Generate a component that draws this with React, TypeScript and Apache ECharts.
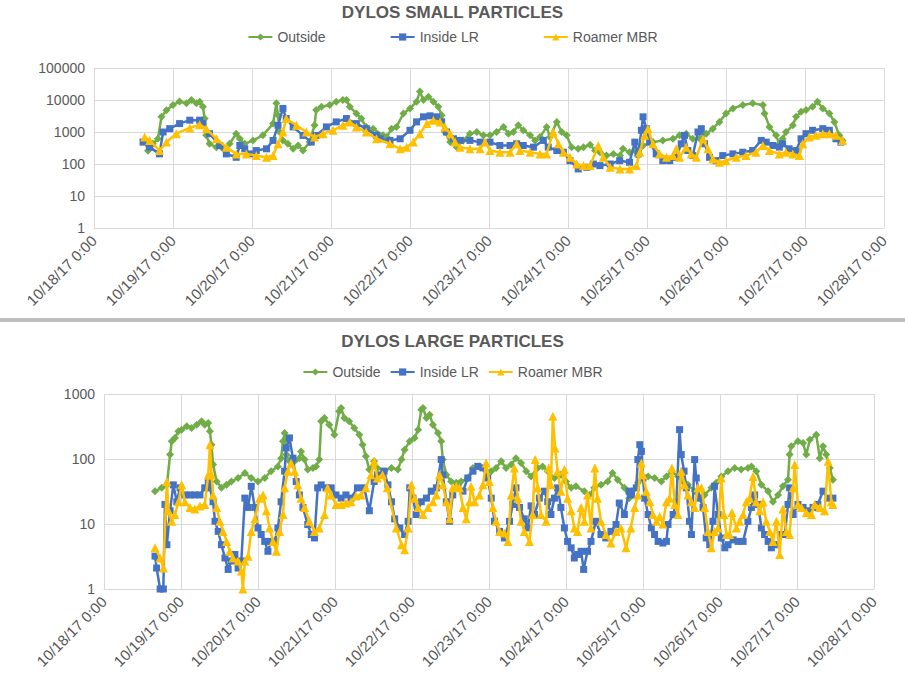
import React, { useEffect, useRef } from "react";
import * as echarts from "echarts";

// Time is hours since 10/18/17 0:00
const xTickHours = [0, 24, 48, 72, 96, 120, 144, 168, 192, 216, 240];
const seriesNames = ["Outside", "Inside LR", "Roamer MBR"];

// ---------- SMALL PARTICLES ----------
const smallOutsideHours = [
  15.4, 16.4, 17.9, 19.4, 20.5, 22.0, 24.0, 26.0, 28.1, 29.6, 31.1, 32.1, 33.1, 33.6, 34.1, 35.1, 37.2, 39.2, 41.2, 43.2,
  44.3, 45.8, 48.3, 51.3, 54.4, 55.4, 55.9, 56.4, 57.4, 58.9, 60.5, 62.0, 63.5, 65.5, 67.0, 67.5, 69.1, 71.6, 73.6, 75.6,
  76.7, 77.7, 79.7, 81.2, 82.7, 84.8, 87.8,
  88.9, 90.4, 91.9, 94.0, 96.0, 98.0, 99.0, 100.1, 101.6, 103.1, 104.6, 105.6, 106.6, 108.2, 110.2, 112.2, 114.2, 116.3, 118.3, 120.3,
  122.3, 124.4, 125.9, 127.4, 128.9, 130.4, 132.5, 134.0, 135.5, 137.5, 138.5, 140.6, 142.1, 143.6, 145.1, 147.1, 148.7, 150.7, 152.2, 153.7,
  155.7, 157.8, 159.8,
  160.7, 162.7, 164.3, 165.3, 166.8, 169.8, 172.8, 175.9, 177.9, 179.9, 181.9, 184.0, 186.0, 188.0, 190.0, 192.0, 194.1, 197.1, 200.1, 203.2,
  203.7, 205.2, 207.2, 208.2, 209.2, 210.2, 212.3, 213.3, 214.8, 216.3, 218.3, 219.8, 221.4, 223.4, 224.9, 226.4, 227.4,
];
const smallOutside = [
  550, 260, 430, 610, 3000, 4800, 7000, 8900, 7850, 10000, 7850, 8860, 6150, 2630, 785, 428, 336, 298, 428, 886,
  614, 428, 546, 785, 1830, 7850, 3360, 1000, 546, 428, 298, 379, 263, 483, 1620, 4830, 6150, 6950, 8860, 10000,
  10000, 6150, 3800, 2630, 1440, 1270, 785,
  695, 1270, 1440, 3800, 5450, 8860, 18300, 10000, 12700, 8860, 6150, 3360, 1000, 483, 336, 546, 886, 1000, 785, 785,
  1000, 1440, 886, 1000, 1620, 1130, 785, 546, 695, 1440, 695, 2070, 1000, 785, 336, 298, 336, 400, 263, 233,
  183, 207, 183,
  298, 233, 263, 183, 379, 483, 546, 614, 785, 886, 614, 614, 886, 1270, 2070, 3800, 5450, 6950, 7850, 6950,
  3800, 1440, 785, 428, 614, 1000, 1620, 2980, 4280, 4830, 6150, 8860, 5450, 3800, 2070, 785, 546,
];

const smallInsideHours = [
  14.9, 16.9, 19.9, 21.0, 23.0, 26.0, 29.1, 32.1, 33.1, 35.1, 38.2, 40.2, 43.2, 44.3, 45.8, 47.3, 49.3, 52.4, 54.4, 55.9,
  57.4, 58.4, 60.5, 63.5, 66.0, 67.5, 70.6, 73.6, 76.7, 79.7, 82.7, 85.8,
  86.9, 89.9, 93.0, 96.0, 98.0, 100.1, 102.1, 104.1, 105.6, 107.1, 109.2, 111.2, 114.2, 117.3, 120.3, 123.3, 126.4, 128.4, 130.4, 133.5,
  136.5, 138.0, 140.6, 142.6, 144.6, 147.1, 149.7, 151.7, 153.7, 156.8,
  159.7, 162.7, 164.3, 165.3, 166.3, 166.8, 167.8, 168.8, 170.8, 172.8, 174.9, 176.9, 178.4, 179.4, 180.4, 181.9, 183.5, 184.5, 185.5, 187.0,
  189.0, 191.0, 194.1, 197.1, 200.1, 202.7, 204.2, 206.2, 208.2, 209.2, 211.2, 213.3, 214.8, 216.3, 218.3, 221.4, 223.4, 225.4, 226.9,
];
const smallInside = [
  483, 336, 207, 1000, 1270, 1830, 2340, 2340, 1830, 886, 379, 207, 162, 379, 298, 207, 263, 298, 546, 1620,
  5450, 2630, 1440, 785, 483, 785, 1440, 2070, 2630, 1830, 1270, 785,
  614, 546, 614, 1130, 2070, 2980, 3200, 2980, 2070, 1000, 614, 546, 546, 483, 483, 379, 379, 428, 379, 336,
  546, 336, 263, 233, 127, 70, 79, 100, 89, 100,
  127, 113, 483, 207, 1130, 2980, 1270, 483, 207, 127, 127, 162, 428, 785, 263, 183, 1000, 1270, 428, 162,
  127, 183, 207, 233, 263, 546, 483, 379, 336, 428, 298, 263, 614, 886, 1130, 1270, 1130, 614, 483,
];

const smallRoamerHours = [
  15.4, 16.9, 19.9, 22.0, 25.0, 29.1, 32.1, 34.1, 37.2, 40.2, 43.2, 46.3, 49.3, 52.4, 54.4, 55.9, 57.4, 58.4, 61.5, 64.5,
  67.0, 69.6, 72.6, 75.6, 77.7, 79.7, 82.7, 85.8,
  89.9, 93.0, 95.0, 97.0, 99.0, 101.1, 103.1, 105.1, 106.6, 108.2, 109.7, 111.2, 114.2, 117.3, 118.8, 120.3, 123.3, 126.4, 128.4, 129.4,
  132.5, 135.5, 137.5, 139.5, 141.1, 142.6, 144.6, 146.6, 148.7, 150.7, 153.2, 154.7, 156.8, 159.8,
  162.7, 164.8, 165.8, 167.3, 168.3, 169.8, 171.8, 173.9, 175.9, 176.9, 177.9, 179.9, 181.4, 183.0, 185.0, 186.5, 188.0, 190.0, 192.0, 195.1,
  198.1, 201.1, 203.2, 205.2, 208.2, 210.2, 212.3, 214.3, 215.3, 217.3, 219.3, 221.4, 223.4, 225.4, 227.4,
];
const smallRoamer = [
  695, 546, 263, 483, 886, 1340, 1700, 1270, 614, 336, 207, 207, 183, 162, 183, 428, 1000, 2630, 1620, 1000,
  695, 886, 1130, 1620, 2070, 1440, 1000, 614,
  428, 298, 336, 483, 886, 1830, 2340, 2070, 1440, 886, 483, 336, 298, 298, 483, 263, 233, 233, 428, 263,
  233, 207, 207, 1000, 428, 233, 162, 100, 89, 89, 379, 162, 79, 70,
  70, 89, 233, 785, 1270, 428, 207, 162, 183, 298, 162, 336, 207, 162, 614, 298, 144, 113, 127, 162,
  183, 233, 379, 263, 207, 233, 207, 183, 428, 695, 785, 886, 886, 785, 546,
];

// ---------- LARGE PARTICLES ----------
const largeOutsideHours = [
  15.9, 18.0, 19.6, 20.6, 21.1, 22.1, 23.2, 24.2, 25.8, 27.3, 28.9, 30.4, 31.4, 32.5, 33.0, 33.5, 34.0, 35.1, 36.6, 38.2,
  39.7, 41.8, 43.9, 45.9, 48.0, 50.1, 52.1, 54.2, 55.2, 55.8, 56.3, 56.8, 57.8, 59.4, 60.9, 61.4, 62.5, 63.5, 65.1, 66.1,
  67.1, 67.7, 68.7, 70.2, 71.8, 73.3, 73.9, 74.9, 76.4, 78.0, 79.6, 80.6, 81.6, 82.7, 84.2, 85.2, 87.3,
  89.6, 91.6, 92.7, 93.7, 95.3, 96.8, 97.9, 98.9, 99.4, 100.5, 101.5, 102.5, 104.1, 105.1, 105.6, 106.7, 108.2, 109.8, 111.3, 113.4,
  115.0, 117.0, 118.6, 120.7, 122.2, 123.8, 125.3, 126.9, 128.4, 130.0, 131.6, 133.1, 135.2, 136.7, 138.3, 140.4, 142.4, 144.0, 145.6, 147.1,
  149.7, 151.3, 152.8, 154.9, 157.0, 158.5, 160.1, 162.2, 163.7,
  164.4, 166.4, 168.0, 169.6, 171.6, 173.7, 175.3, 176.8, 178.9, 180.5, 182.0, 184.1, 185.7, 187.2, 189.3, 190.8, 192.4, 194.5, 196.6, 198.6,
  200.7, 201.8, 203.3, 204.9, 207.0, 208.5, 210.1, 211.6, 213.2, 213.7, 214.2, 216.3, 217.9, 218.9, 220.0, 222.0, 223.1, 224.1, 225.1, 226.2,
  227.2,
];
const largeOutside = [
  32, 36, 40, 117, 187, 211, 267, 283, 318, 300, 337, 380, 337, 358, 267, 166, 82, 45, 36, 40,
  45, 51, 61, 51, 45, 51, 65, 77, 103, 187, 251, 117, 92, 92, 103, 131, 98, 69, 73, 77,
  98, 380, 428, 337, 237, 541, 609, 428, 380, 300, 237, 166, 110, 69, 92, 73, 65,
  73, 69, 98, 139, 187, 211, 283, 574, 609, 428, 481, 337, 251, 187, 98, 57, 45, 43, 45, 51,
  73, 77, 69, 65, 73, 92, 73, 82, 103, 87, 65, 54, 73, 77, 65, 51, 57, 45, 36, 38,
  32, 28, 36, 40, 45, 61, 48, 36, 25,
  32, 43, 51, 54, 51, 45, 54, 65, 54, 45, 40, 32, 25, 28, 36, 43, 54, 65, 73, 69,
  73, 77, 65, 40, 32, 22, 28, 38, 48, 117, 157, 187, 176, 117, 198, 237, 103, 157, 117, 73,
  48,
];

const largeInsideHours = [
  15.9, 16.4, 17.5, 18.5, 19.0, 19.6, 20.6, 21.6, 22.7, 23.7, 25.2, 26.8, 28.3, 29.9, 31.4, 32.5, 33.0, 34.0, 34.6, 35.6,
  36.6, 37.7, 38.7, 39.7, 40.8, 41.8, 42.8, 43.9, 44.9, 45.9, 47.0, 48.0, 49.0, 50.1, 51.1, 52.1, 53.2, 54.2, 55.2, 56.3,
  56.8, 57.8, 58.9, 59.9, 60.9, 62.0, 63.5, 64.6, 65.6, 66.6, 67.7, 69.2, 70.8, 72.3, 73.9, 75.4, 77.0, 79.0, 81.1, 82.7,
  84.2, 85.2, 87.3,
  88.5, 89.6, 90.6, 92.2, 93.7, 94.8, 95.3, 96.3, 97.3, 98.9, 100.5, 102.0, 103.6, 105.1, 105.6, 106.7, 107.7, 108.7, 110.3, 111.9,
  113.4, 115.0, 116.5, 118.1, 119.6, 120.7, 121.7, 123.3, 124.8, 126.4, 127.4, 128.4, 129.5, 131.0, 132.1, 133.1, 134.2, 135.7, 137.3, 138.3,
  139.3, 140.4, 141.4, 142.4, 143.5, 144.5, 145.6, 146.6, 147.6, 148.7, 149.5, 150.7, 151.8, 153.3, 154.9, 156.4, 158.0, 159.6, 160.6, 162.2,
  163.7,
  164.4, 165.9, 166.4, 167.0, 167.5, 168.0, 168.5, 169.6, 170.6, 171.6, 172.7, 174.2, 175.3, 175.8, 177.4, 178.4, 179.4, 179.9, 180.8, 181.5,
  182.5, 183.1, 184.1, 184.6, 185.7, 186.7, 187.7, 188.8, 189.8, 190.3, 191.4, 192.4, 193.5, 194.5, 196.1, 197.6, 199.2, 200.7, 201.8, 202.8,
  203.9, 204.9, 205.9, 207.0, 208.0, 209.6, 211.1, 212.2, 213.2, 213.7, 214.8, 216.3, 217.9, 219.4, 221.0, 222.5, 224.1, 225.7, 227.2,
];
const largeInside = [
  3.2, 2.1, 1, 1, 20, 4.8, 16, 40, 22, 36, 28, 28, 28, 28, 36, 43, 36, 22, 11, 7.7,
  4.8, 3, 2, 2.7, 3.4, 2.1, 2.7, 25, 18, 38, 18, 8.7, 6.9, 5.4, 3.8, 5.4, 5.4, 8.7, 22, 65,
  148, 211, 103, 45, 28, 18, 9.8, 6.9, 6.1, 36, 40, 36, 36, 28, 25, 28, 25, 36, 36, 16,
  45, 57, 65,
  40, 22, 12, 8.7, 6.9, 11, 36, 25, 14, 22, 25, 32, 36, 98, 57, 22, 11, 28, 36, 32,
  51, 65, 77, 73, 51, 25, 11, 7.7, 6.1, 11, 20, 36, 18, 12, 8.7, 19, 14, 25, 32, 22,
  14, 25, 36, 18, 8.7, 5.4, 4.3, 3, 3.4, 3.8, 2, 3.8, 5.4, 11, 6.9, 6.1, 7.7, 9.8, 21, 14,
  32,
  28, 36, 98, 166, 131, 51, 25, 14, 8.7, 6.9, 5.4, 5.1, 5.4, 9.8, 14, 22, 283, 117, 65, 36,
  11, 6.9, 98, 51, 25, 18, 6.1, 4.8, 11, 38, 14, 6.1, 4.3, 4.8, 5.7, 5.4, 5.4, 11, 18, 28,
  20, 8.7, 6.9, 5.4, 4.3, 4.8, 6.9, 6.9, 20, 36, 14, 20, 18, 16, 18, 20, 32, 25, 25,
];

const largeRoamerHours = [
  15.9, 17.5, 18.5, 19.6, 20.1, 21.1, 22.1, 23.2, 24.2, 25.2, 26.8, 28.3, 29.9, 31.4, 32.5, 33.0, 33.5, 34.0, 35.1, 36.1,
  37.1, 38.2, 39.2, 40.2, 41.8, 42.8, 43.3, 43.9, 44.9, 45.9, 47.0, 48.5, 49.6, 50.6, 51.6, 52.7, 53.7, 54.7, 55.8, 56.3,
  57.3, 58.3, 59.4, 60.4, 61.4, 62.5, 64.0, 65.6, 67.1, 68.7, 69.7, 70.8, 72.3, 73.9, 75.4, 77.0, 78.5, 80.1, 81.6, 83.2,
  84.2, 85.2, 86.8, 88.3,
  91.1, 92.7, 93.7, 94.8, 95.8, 96.8, 97.9, 99.4, 101.0, 102.5, 103.6, 104.6, 105.6, 106.7, 107.7, 108.7, 109.8, 110.8, 111.9, 112.9,
  113.9, 114.4, 115.5, 117.0, 118.1, 119.1, 120.1, 121.2, 122.2, 123.3, 124.8, 125.9, 126.9, 127.9, 129.0, 130.0, 131.0, 132.6, 133.6, 134.4,
  135.2, 136.2, 137.8, 138.6, 139.3, 139.9, 140.6, 141.4, 142.4, 143.5, 144.5, 145.6, 146.6, 147.6, 148.7, 149.7, 150.7, 151.8, 153.0, 153.8,
  154.9, 156.4, 158.0, 159.6, 161.1, 162.7, 164.2,
  165.4, 166.4, 167.5, 168.0, 169.0, 170.1, 171.1, 172.2, 173.2, 174.2, 175.3, 176.3, 177.0, 177.9, 178.9, 179.9, 181.0, 182.0, 183.1, 184.1,
  185.1, 186.2, 187.2, 188.3, 189.3, 190.3, 191.4, 192.4, 193.2, 194.0, 195.0, 195.7, 197.1, 198.1, 199.2, 200.2, 201.2, 202.3, 203.3, 204.4,
  205.4, 206.4, 207.5, 208.5, 209.6, 210.6, 211.6, 212.7, 213.7, 214.8, 215.3, 216.3, 217.4, 218.9, 220.5, 221.5, 223.1, 224.6, 225.7, 226.7,
  227.2,
];
const largeRoamer = [
  4.3, 3, 2.1, 45, 16, 11, 14, 22, 40, 22, 18, 17, 19, 20, 57, 166, 57, 28, 18, 11,
  7.7, 5.4, 3.8, 3, 2.7, 1.9, 1, 2.7, 3.2, 7.7, 12, 25, 28, 16, 8.7, 5.4, 3.8, 7.7, 14, 36,
  65, 87, 65, 40, 25, 18, 11, 7.7, 8.7, 14, 36, 28, 20, 20, 21, 22, 27, 28, 36, 57,
  92, 51, 57, 36,
  8.7, 4.8, 4, 8.7, 40, 25, 18, 14, 18, 22, 28, 57, 40, 22, 12, 36, 38, 36, 18, 12,
  22, 38, 22, 28, 40, 87, 45, 18, 11, 7.7, 7.3, 5.4, 28, 73, 25, 11, 7.7, 5.4, 14, 98,
  36, 14, 11, 73, 40, 453, 148, 65, 32, 69, 25, 16, 8.7, 7.7, 18, 11, 28, 8.7, 73, 25,
  11, 6.9, 5.1, 7.7, 8.7, 4.3, 8.7,
  18, 28, 87, 57, 32, 22, 14, 11, 13, 10, 22, 25, 73, 20, 14, 65, 40, 28, 22, 18,
  36, 36, 18, 7.7, 4.3, 7.7, 8.7, 51, 14, 6.9, 6.9, 15, 8.7, 11, 14, 22, 25, 54, 22, 16,
  22, 11, 7.7, 5.4, 11, 3.4, 17, 7.7, 6.9, 36, 82, 20, 18, 15, 14, 20, 18, 16, 92, 22,
  20,
];

const COLORS = ["#70AD47", "#4472C4", "#FFC000"];
const SYMBOLS = ["diamond", "rect", "triangle"];
const SYMBOL_SIZES = [8, 7, 9];
const FONT = '"Liberation Sans", Arial, sans-serif';
const TEXT = "#595959";
const GRIDLINE = "#d9d9d9";

const pair = (hours: number[], vals: number[]) => hours.map((h, i) => [h, vals[i]]);

const dateLabel = (h: number) => `10/${18 + Math.round(h / 24)}/17 0:00`;

export default function App() {
  const ref = useRef<HTMLDivElement>(null);
  useEffect(() => {
    document.body.style.margin = "0";
    if (!ref.current) return;
    const chart = echarts.init(ref.current, undefined, { renderer: "svg" });

    const xAxisBase = (gridIndex: number) => ({
      type: "value",
      gridIndex,
      min: xTickHours[0],
      max: xTickHours[xTickHours.length - 1],
      interval: 24,
      axisLine: { show: true, lineStyle: { color: GRIDLINE, width: 1 } },
      axisTick: { show: false },
      splitLine: { show: true, lineStyle: { color: GRIDLINE, width: 1 } },
      axisLabel: {
        rotate: 45,
        formatter: (v: number) => dateLabel(v),
        color: TEXT,
        fontSize: 15,
        fontFamily: FONT,
        margin: 10,
      },
    });
    const yAxisBase = (gridIndex: number, max: number) => ({
      type: "log",
      logBase: 10,
      gridIndex,
      min: 1,
      max,
      axisLine: { show: false },
      axisTick: { show: false },
      splitLine: { show: true, lineStyle: { color: GRIDLINE, width: 1 } },
      axisLabel: {
        formatter: (v: number) => String(Math.round(v)),
        color: TEXT,
        fontSize: 14,
        fontFamily: FONT,
        margin: 9,
      },
    });

    const mk = (idx: number, axis: number, data: number[][]) => ({
      type: "line",
      name: seriesNames[idx],
      xAxisIndex: axis,
      yAxisIndex: axis,
      data,
      symbol: SYMBOLS[idx],
      symbolSize: SYMBOL_SIZES[idx],
      showSymbol: true,
      lineStyle: { color: COLORS[idx], width: 2.5 },
      itemStyle: { color: COLORS[idx] },
      emphasis: { disabled: true },
      z: 2 + idx,
    });

    const legendBase = {
      left: "center",
      data: seriesNames,
      itemWidth: 24,
      itemHeight: 9,
      textStyle: { color: TEXT, fontSize: 14, fontFamily: FONT },
    };

    chart.setOption({
      animation: false,
      backgroundColor: "#ffffff",
      title: [
        {
          text: "DYLOS SMALL PARTICLES",
          left: "center",
          top: -1,
          textStyle: { color: TEXT, fontSize: 17, fontWeight: "bold", fontFamily: FONT },
        },
        {
          text: "DYLOS LARGE PARTICLES",
          left: "center",
          top: 328,
          textStyle: { color: TEXT, fontSize: 17, fontWeight: "bold", fontFamily: FONT },
        },
      ],
      legend: [
        { ...legendBase, top: 25, itemGap: 64 },
        { ...legendBase, top: 360, itemGap: 9 },
      ],
      grid: [
        { left: 94, right: 21, top: 68, height: 160 },
        { left: 104, right: 31, top: 394, height: 195 },
      ],
      xAxis: [xAxisBase(0), xAxisBase(1)],
      yAxis: [yAxisBase(0, 100000), yAxisBase(1, 1000)],
      graphic: [
        {
          type: "rect",
          shape: { x: 0, y: 318, width: 905, height: 4 },
          style: { fill: "#bfbfbf" },
          silent: true,
        },
      ],
      series: [
        mk(0, 0, pair(smallOutsideHours, smallOutside)),
        mk(1, 0, pair(smallInsideHours, smallInside)),
        mk(2, 0, pair(smallRoamerHours, smallRoamer)),
        mk(0, 1, pair(largeOutsideHours, largeOutside)),
        mk(1, 1, pair(largeInsideHours, largeInside)),
        mk(2, 1, pair(largeRoamerHours, largeRoamer)),
      ],
    });
    return () => chart.dispose();
  }, []);
  return <div ref={ref} style={{ width: 905, height: 680 }} />;
}
